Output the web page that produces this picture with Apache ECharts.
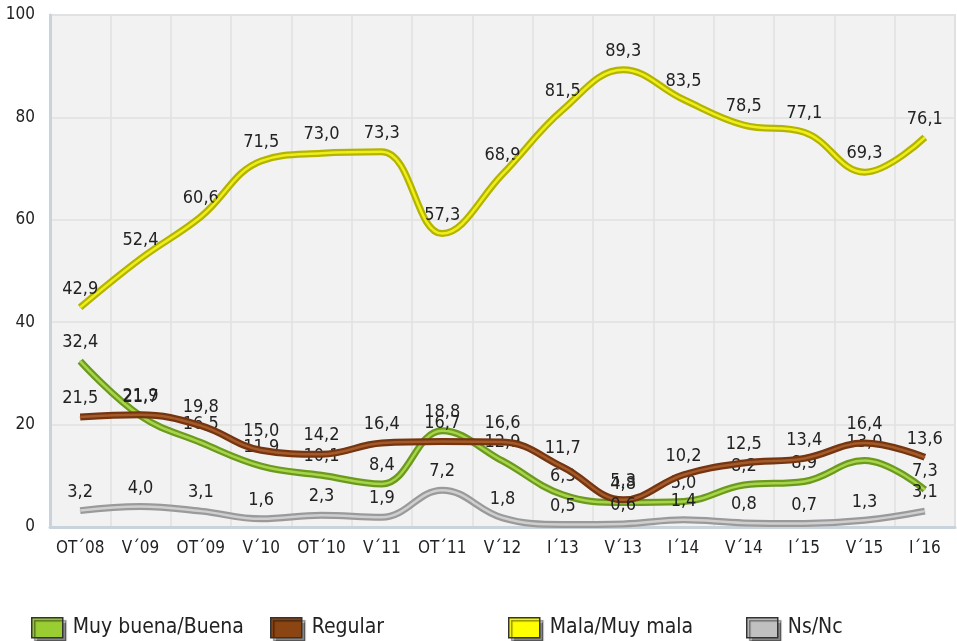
<!DOCTYPE html>
<html>
<head>
<meta charset="UTF-8">
<title>Valoración</title>
<script type="text/javascript" src="https://cdn.jsdelivr.net/npm/echarts@6/dist/echarts.min.js"></script>
<style>
  html, body { margin: 0; padding: 0; background: #fff; }
</style>
</head>
<body>
    <div id="main" style="width: 957px;height:641px;"></div>
    <script type="text/javascript">
        // datos
        var categorias = ['OT´08', 'V´09', 'OT´09', 'V´10', 'OT´10', 'V´11', 'OT´11', 'V´12', 'I´13', 'V´13', 'I´14', 'V´14', 'I´15', 'V´15', 'I´16'];
        var muyBuena = [32.4, 21.7, 16.5, 11.9, 10.1, 8.4, 18.8, 12.9, 6.3, 4.8, 5.0, 8.2, 8.9, 13.0, 7.3];
        var regular  = [21.5, 21.9, 19.8, 15.0, 14.2, 16.4, 16.7, 16.6, 11.7, 5.3, 10.2, 12.5, 13.4, 16.4, 13.6];
        var mala     = [42.9, 52.4, 60.6, 71.5, 73.0, 73.3, 57.3, 68.9, 81.5, 89.3, 83.5, 78.5, 77.1, 69.3, 76.1];
        var nsnc     = [3.2, 4.0, 3.1, 1.6, 2.3, 1.9, 7.2, 1.8, 0.5, 0.6, 1.4, 0.8, 0.7, 1.3, 3.1];
        var yTicks = [0, 20, 40, 60, 80, 100];

        var fuente = 'DejaVu Sans Condensed';

        var series = [
            { name: 'Muy buena/Buena', data: muyBuena, borde: '#6b9a1e', brillo: '#a8d44a', leyenda: '#9acd32' },
            { name: 'Regular', data: regular, borde: '#743510', brillo: '#a55a2a', leyenda: '#8b4513' },
            { name: 'Mala/Muy mala', data: mala, borde: '#b4b400', brillo: '#eeee1a', leyenda: '#ffff00' },
            { name: 'Ns/Nc', data: nsnc, borde: '#9a9a9a', brillo: '#cfcfcf', leyenda: '#c0c0c0' }
        ];

        var seriesOpt = [];
        series.forEach(function (s, i) {
            seriesOpt.push({
                name: s.name,
                type: 'line',
                data: s.data,
                smooth: 0.4,
                symbol: 'circle',
                symbolSize: 1,
                z: 2 + i * 2,
                itemStyle: { color: s.borde },
                lineStyle: { color: s.borde, width: 7 },
                label: {
                    show: true,
                    position: 'top',
                    distance: 9,
                    color: '#222',
                    fontFamily: fuente,
                    fontSize: 18,
                    formatter: function (p) { return p.value.toFixed(1).replace('.', ','); }
                }
            });
            // brillo central de la línea
            seriesOpt.push({
                name: s.name + '_brillo',
                type: 'line',
                data: s.data,
                smooth: 0.4,
                symbol: 'none',
                silent: true,
                z: 3 + i * 2,
                lineStyle: { color: s.brillo, width: 2.5 }
            });
        });

        var posLeyenda = [26, 265, 503, 741];
        var leyendas = series.map(function (s, i) {
            return {
                left: posLeyenda[i],
                top: 612,
                icon: 'rect',
                itemWidth: 31,
                itemHeight: 20,
                selectedMode: false,
                textStyle: { fontFamily: fuente, fontSize: 21, color: '#222', padding: [0, 0, 0, 5] },
                data: [{
                    name: s.name,
                    itemStyle: {
                        color: s.leyenda, borderColor: '#333', borderWidth: 1.5,
                        shadowColor: 'rgba(0,0,0,0.45)', shadowOffsetX: 3, shadowOffsetY: 3, shadowBlur: 1
                    }
                }]
            };
        });

        var myChart = echarts.init(document.getElementById('main'));
        var option = {
            animation: false,
            legend: leyendas,
            grid: {
                left: 50, right: 2, top: 15, bottom: 114,
                show: true, backgroundColor: '#f2f2f2', borderColor: '#dde3ea', borderWidth: 2
            },
            xAxis: {
                type: 'category',
                data: categorias,
                boundaryGap: true,
                axisLine: { lineStyle: { color: '#c9d3de', width: 3 } },
                axisTick: { show: false },
                splitLine: { show: true, lineStyle: { color: '#e0e0e0', width: 1.5 } },
                axisLabel: { fontFamily: fuente, fontSize: 17, color: '#222', margin: 13, interval: 0 }
            },
            yAxis: {
                type: 'value',
                min: yTicks[0],
                max: yTicks[yTicks.length - 1],
                interval: yTicks[1] - yTicks[0],
                axisLine: { show: true, lineStyle: { color: '#c9d3de', width: 3 } },
                axisTick: { show: false },
                splitLine: { lineStyle: { color: '#e0e0e0', width: 1.5 } },
                axisLabel: { fontFamily: fuente, fontSize: 17, color: '#222', margin: 15 }
            },
            series: seriesOpt
        };
        myChart.setOption(option);
    </script>
</body>
</html>
